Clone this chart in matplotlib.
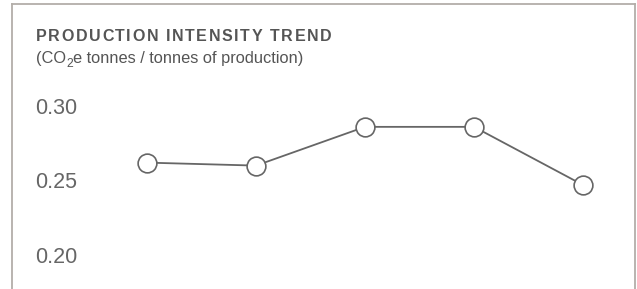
import matplotlib
matplotlib.use("Agg")
import matplotlib.pyplot as plt
from matplotlib.lines import Line2D

plt.rcParams['font.family'] = ['Liberation Sans', 'DejaVu Sans']

# data
periods = [0, 1, 2, 3, 4]
intensity = [0.262, 0.260, 0.286, 0.286, 0.247]
yticks = [0.20, 0.25, 0.30]
ytick_labels = ['0.20', '0.25', '0.30']
title = 'PRODUCTION INTENSITY TREND'
subtitle_parts = [('(CO', 0), ('2', 1), ('e tonnes / tonnes of production)', 0)]

W, H = 637, 289
fig = plt.figure(figsize=(W / 100, H / 100), dpi=100)
fig.patch.set_facecolor('white')

def fx(px):
    return px / W

def fy(py):
    return 1 - py / H

# frame around the panel (open at the bottom)
frame_col = '#b3aea9'
fig.add_artist(Line2D([fx(12), fx(12)], [fy(4), 0], color=frame_col, lw=1.3))
fig.add_artist(Line2D([fx(12), fx(635)], [fy(4), fy(4)], color=frame_col, lw=1.3))
fig.add_artist(Line2D([fx(635), fx(635)], [fy(4), 0], color=frame_col, lw=1.3))

# axes placed so that the ticks land where the reference has them
ax = fig.add_axes([fx(12), 0, fx(635) - fx(12), fy(90)])
px_per_unit_y = (255 - 106) / 0.10
ax.set_ylim(0.20 - (289 - 255) / px_per_unit_y, 0.30 + (106 - 90) / px_per_unit_y)
px_per_step = (583 - 147) / 4
ax.set_xlim(-(147 - 12) / px_per_step, 4 + (635 - 583) / px_per_step)

ax.plot(periods, intensity, color='#666666', lw=1.3, marker='o', ms=13.5,
        mfc='white', mec='#666666', mew=1.2, zorder=3)

ax.set_yticks(yticks)
ax.set_yticklabels(ytick_labels)
ax.tick_params(axis='y', direction='in', pad=-16.8, length=0, labelsize=15.5,
               labelcolor='#666666')
for lab in ax.get_yticklabels():
    lab.set_horizontalalignment('left')
ax.set_xticks([])
for s in ax.spines.values():
    s.set_visible(False)
ax.patch.set_alpha(0)

# title with letter spacing, drawn char by char
fig.canvas.draw()
r = fig.canvas.get_renderer()
x = 36
spacing = 1.6
for ch in title:
    t = fig.text(fx(x), fy(41), ch, fontsize=11.5, fontweight='bold',
                 color='#555555', va='baseline', ha='left')
    w = t.get_window_extent(renderer=r).width if ch != ' ' else 4.5
    x += w + spacing

# subtitle with a real subscript
x = 36
for part, sub in subtitle_parts:
    size = 8.7 if sub else 11.8
    base = 67 if sub else 63
    t = fig.text(fx(x), fy(base), part, fontsize=size, color='#555555',
                 va='baseline', ha='left')
    x += t.get_window_extent(renderer=r).width

fig.savefig('out.png', dpi=100, facecolor='white')
